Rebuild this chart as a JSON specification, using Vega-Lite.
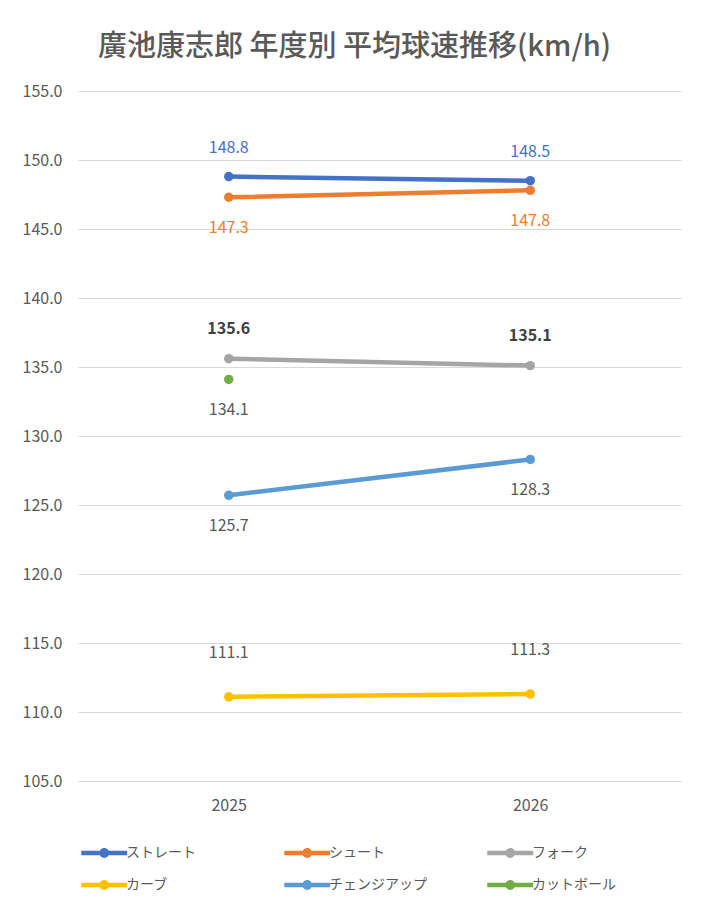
{
  "$schema": "https://vega.github.io/schema/vega-lite/v6.json",
  "autosize": {"type": "none"},
  "width": 603,
  "height": 690,
  "padding": {"left": 78, "top": 91, "right": 24, "bottom": 122},
  "background": "white",
  "title": {
    "text": "廣池康志郎 年度別 平均球速推移(km/h)",
    "anchor": "middle",
    "dx": -25,
    "offset": 21,
    "fontSize": 29,
    "fontWeight": 500,
    "font": "Noto Sans CJK JP",
    "color": "#595959"
  },
  "data": {
    "values": [
      {"year": "2025", "series": "ストレート", "speed": 148.8},
      {"year": "2026", "series": "ストレート", "speed": 148.5},
      {"year": "2025", "series": "シュート", "speed": 147.3},
      {"year": "2026", "series": "シュート", "speed": 147.8},
      {"year": "2025", "series": "フォーク", "speed": 135.6},
      {"year": "2026", "series": "フォーク", "speed": 135.1},
      {"year": "2025", "series": "カーブ", "speed": 111.1},
      {"year": "2026", "series": "カーブ", "speed": 111.3},
      {"year": "2025", "series": "チェンジアップ", "speed": 125.7},
      {"year": "2026", "series": "チェンジアップ", "speed": 128.3},
      {"year": "2025", "series": "カットボール", "speed": 134.1}
    ]
  },
  "encoding": {
    "x": {
      "field": "year",
      "type": "ordinal",
      "scale": {"type": "point", "padding": 0.5},
      "axis": {"title": null, "labelAngle": 0, "domain": false, "ticks": false, "labelPadding": 16, "labelFontSize": 16}
    },
    "y": {
      "field": "speed",
      "type": "quantitative",
      "scale": {"domain": [105, 155], "nice": false, "zero": false},
      "axis": {"title": null, "values": [105, 110, 115, 120, 125, 130, 135, 140, 145, 150, 155], "format": ".1f", "domain": false, "ticks": false, "labelPadding": 16, "labelFontSize": 16}
    }
  },
  "layer": [
    {
      "mark": {"type": "line", "strokeWidth": 4.5, "strokeCap": "round"},
      "encoding": {
        "color": {
          "field": "series",
          "type": "nominal",
          "scale": {
            "domain": ["ストレート", "シュート", "フォーク", "カーブ", "チェンジアップ", "カットボール"],
            "range": ["#4472C4", "#ED7D31", "#A5A5A5", "#FFC000", "#5B9BD5", "#70AD47"]
          },
          "legend": {
            "title": null,
            "orient": "none",
            "legendX": 2,
            "legendY": 755,
            "direction": "horizontal",
            "columns": 3,
            "columnPadding": 59,
            "rowPadding": 18,
            "gridAlign": "all",
            "symbolType": "M-1,-0.4L7,-0.4L7,0.4L-1,0.4Z M3.85,0A0.85,0.85 0 1,1 2.15,0A0.85,0.85 0 1,1 3.85,0Z",
            "symbolSize": 132,
            "symbolStrokeWidth": 0,
            "labelFontSize": 14,
            "labelOffset": 32,
            "labelLimit": 200,
            "encode": {
              "symbols": {"update": {"fill": {"scale": "color", "field": "value"}, "stroke": {"value": "transparent"}, "opacity": {"value": 1}}}
            }
          }
        }
      }
    },
    {
      "mark": {"type": "point", "filled": true, "size": 90, "opacity": 1},
      "encoding": {"color": {"field": "series", "type": "nominal"}}
    },
    {
      "transform": [{"filter": "datum.series === 'ストレート'"}],
      "mark": {"type": "text", "dy": -29, "fontSize": 16, "color": "#4472C4"},
      "encoding": {"text": {"field": "speed", "type": "quantitative", "format": ".1f"}}
    },
    {
      "transform": [{"filter": "datum.series === 'フォーク'"}],
      "mark": {"type": "text", "dy": -30, "fontSize": 16, "fontWeight": "bold", "color": "#404040"},
      "encoding": {"text": {"field": "speed", "type": "quantitative", "format": ".1f"}}
    },
    {
      "transform": [{"filter": "datum.series === 'カーブ'"}],
      "mark": {"type": "text", "dy": -44, "fontSize": 16, "color": "#595959"},
      "encoding": {"text": {"field": "speed", "type": "quantitative", "format": ".1f"}}
    },
    {
      "transform": [{"filter": "datum.series === 'シュート' || datum.series === 'チェンジアップ' || datum.series === 'カットボール'"}],
      "mark": {"type": "text", "dy": 31, "fontSize": 16},
      "encoding": {
        "text": {"field": "speed", "type": "quantitative", "format": ".1f"},
        "color": {"condition": {"test": "datum.series === 'シュート'", "value": "#ED7D31"}, "value": "#595959"}
      }
    }
  ],
  "config": {
    "font": "Noto Sans CJK JP",
    "view": {"stroke": null},
    "axis": {"labelColor": "#595959", "gridColor": "#D9D9D9", "gridWidth": 1, "labelFont": "Noto Sans CJK JP"},
    "legend": {"labelColor": "#595959", "labelFont": "Noto Sans CJK JP"},
    "text": {"font": "Noto Sans CJK JP"}
  }
}
